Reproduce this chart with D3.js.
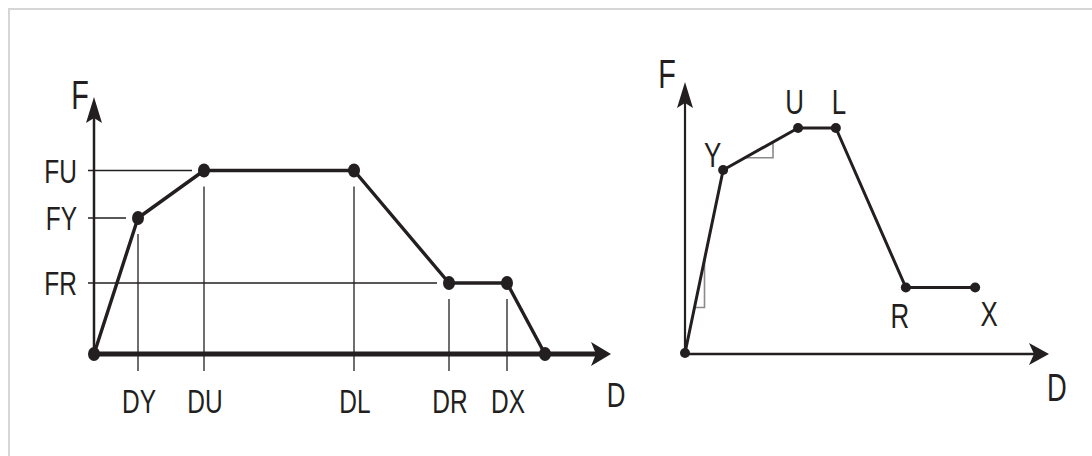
<!DOCTYPE html>
<html>
<head>
<meta charset="utf-8">
<script src="https://cdn.jsdelivr.net/npm/d3@7"></script>
<style>
  html, body { margin: 0; padding: 0; background: #ffffff; }
  svg { display: block; }
  text { font-family: "Liberation Sans", Arial, sans-serif; fill: #231f20; }
</style>
</head>
<body>
<svg id="chart" width="1092" height="456"></svg>
<script>
// ---------- DATA ----------
// Left chart: force-displacement points (arbitrary units)
const leftPointKeys = ["O", "Y", "U", "L", "R", "X", "E"];
const leftD = [0, 8.8, 22, 52, 71, 82.6, 90.2];
const leftF = [0, 54.4, 73.4, 73.4, 28.4, 28.4, 0];
// Tick labels on the left chart
const leftDTickLabels = ["DY", "DU", "DL", "DR", "DX"];
const leftDTickValues = [8.8, 22, 52, 71, 82.6];
const leftFTickLabels = ["FU", "FY", "FR"];
const leftFTickValues = [73.4, 54.4, 28.4];

// Right chart: points
const rightPointLabels = ["", "Y", "U", "L", "R", "X"];
const rightD = [0, 10.9, 32.3, 43.1, 63.1, 82.9];
const rightF = [0, 73.2, 90, 90, 26.2, 26.2];

const axisLabels = ["F", "D"];

// ---------- LAYOUT / STYLE ----------
const ink = "#231f20";
const svg = d3.select("#chart");

// frame border
svg.append("path")
  .attr("d", "M9,460 L9,9 L1100,9")
  .attr("fill", "none").attr("stroke", "#d6d6d6").attr("stroke-width", 2);

function label(g, txt, x, y, size, anchor) {
  g.append("g").attr("transform", `translate(${x},${y})`)
    .append("text")
    .attr("transform", "scale(0.72,1)")
    .attr("text-anchor", anchor || "middle")
    .attr("font-size", size)
    .text(txt);
}

function arrowUp(g, x, tipY) {
  g.append("path")
    .attr("d", `M${x},${tipY} L${x + 8},${tipY + 26} L${x},${tipY + 21} L${x - 8},${tipY + 26} Z`)
    .attr("fill", ink);
}
function arrowRight(g, tipX, y, half) {
  g.append("path")
    .attr("d", `M${tipX},${y} L${tipX - 20},${y + half} L${tipX - 15},${y} L${tipX - 20},${y - half} Z`)
    .attr("fill", ink);
}

// ---------- LEFT CHART ----------
const xL = d3.scaleLinear().domain([0, 100]).range([94, 594]);
const yL = d3.scaleLinear().domain([0, 100]).range([354, 104]);
const gL = svg.append("g");
const leftPts = leftD.map((d, i) => ({ key: leftPointKeys[i], d: d, f: leftF[i] }));

// horizontal reference lines (from axis to just before the point)
leftFTickValues.forEach((v, i) => {
  const firstPt = leftPts.find(p => p.f === v);
  gL.append("line")
    .attr("x1", xL(0) - 6).attr("x2", xL(firstPt.d) - 12)
    .attr("y1", yL(v)).attr("y2", yL(v))
    .attr("stroke", ink).attr("stroke-width", 1.3);
  label(gL, leftFTickLabels[i], 77, yL(v) + 12, 34, "end");
});

// vertical drop lines
leftDTickValues.forEach((v, i) => {
  const pt = leftPts.find(p => p.d === v);
  gL.append("line")
    .attr("x1", xL(v)).attr("x2", xL(v))
    .attr("y1", yL(pt.f) + 16).attr("y2", yL(0) + 17)
    .attr("stroke", ink).attr("stroke-width", 1.3);
  label(gL, leftDTickLabels[i], xL(v) + 1, 413, 34);
});

// axes
gL.append("line").attr("x1", xL(0)).attr("x2", xL(0))
  .attr("y1", yL(0)).attr("y2", 110)
  .attr("stroke", ink).attr("stroke-width", 2.5);
arrowUp(gL, xL(0), 97);
gL.append("line").attr("x1", xL(0)).attr("x2", 600)
  .attr("y1", yL(0)).attr("y2", yL(0))
  .attr("stroke", ink).attr("stroke-width", 5);
arrowRight(gL, 611, yL(0), 12);
label(gL, axisLabels[0], 80, 109, 40);
label(gL, axisLabels[1], 616, 407, 36);

// curve
gL.append("path").datum(leftPts)
  .attr("d", d3.line().x(p => xL(p.d)).y(p => yL(p.f)))
  .attr("fill", "none").attr("stroke", ink).attr("stroke-width", 3.4)
  .attr("stroke-linejoin", "round");
gL.selectAll("ellipse.pt").data(leftPts).enter().append("ellipse")
  .attr("cx", p => xL(p.d)).attr("cy", p => yL(p.f))
  .attr("rx", 6).attr("ry", 7).attr("fill", ink);

// ---------- RIGHT CHART ----------
const xR = d3.scaleLinear().domain([0, 100]).range([685, 1035]);
const yR = d3.scaleLinear().domain([0, 100]).range([353, 103]);
const gR = svg.append("g");
const rightPts = rightD.map((d, i) => ({ lab: rightPointLabels[i], d: d, f: rightF[i] }));

// slope triangles
function slopeTriangle(p0, p1, xa, xb) {
  // triangle under segment p0-p1 between x positions xa (on line) and xb
  const sx = d3.scaleLinear().domain([xR(p0.d), xR(p1.d)]).range([yR(p0.f), yR(p1.f)]);
  const ya = sx(xa), yb = sx(xb);
  gR.append("path")
    .attr("d", `M${xa},${ya} L${xb},${ya} L${xb},${yb}`)
    .attr("fill", "none").attr("stroke", "#8a8a8a").attr("stroke-width", 1.6);
}
slopeTriangle(rightPts[0], rightPts[1], 694.5, 704.5);
slopeTriangle(rightPts[1], rightPts[2], 745, 773);

// axes
gR.append("line").attr("x1", xR(0)).attr("x2", xR(0))
  .attr("y1", yR(0)).attr("y2", 95)
  .attr("stroke", ink).attr("stroke-width", 2.2);
arrowUp(gR, xR(0), 82);
gR.append("line").attr("x1", xR(0)).attr("x2", 1036)
  .attr("y1", yR(0) + 1).attr("y2", yR(0) + 1)
  .attr("stroke", ink).attr("stroke-width", 2.4);
arrowRight(gR, 1049, yR(0) + 1, 11);
label(gR, axisLabels[0], 667, 88, 40);
label(gR, axisLabels[1], 1057, 401, 38);

// curve
gR.append("path").datum(rightPts)
  .attr("d", d3.line().x(p => xR(p.d)).y(p => yR(p.f)))
  .attr("fill", "none").attr("stroke", ink).attr("stroke-width", 3)
  .attr("stroke-linejoin", "round");
gR.selectAll("circle.pt").data(rightPts).enter().append("circle")
  .attr("cx", p => xR(p.d)).attr("cy", p => yR(p.f))
  .attr("r", 5).attr("fill", ink);

// point labels (offsets relative to each point)
const rightLabelOffsets = [[0, 0], [-10.5, -3], [-3.5, -14], [3, -14], [-6, 40.5], [14, 38.5]];
rightPts.forEach((p, i) => {
  if (!p.lab) return;
  const o = rightLabelOffsets[i];
  label(gR, p.lab, xR(p.d) + o[0], yR(p.f) + o[1], 36);
});
</script>
</body>
</html>
